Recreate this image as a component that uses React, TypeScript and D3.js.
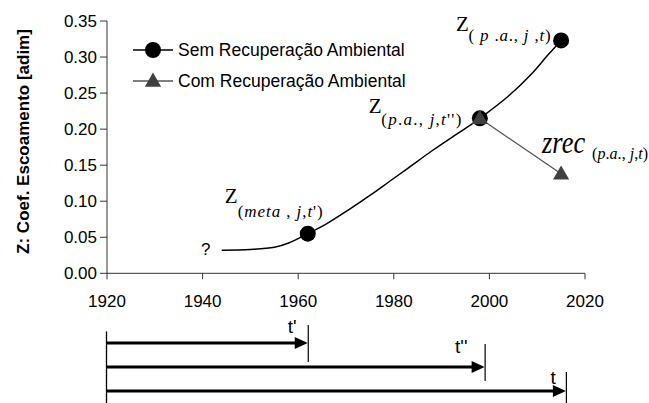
import React from "react";
import * as d3 from "d3";

const curveYears = [1944, 1950, 1955, 1958, 1962, 1966, 1971, 1975, 1979, 1983, 1988, 1992, 1995, 1998, 2004, 2009, 2012, 2015];
const curveValues = [0.032, 0.033, 0.036, 0.042, 0.055, 0.069, 0.090, 0.108, 0.127, 0.146, 0.170, 0.188, 0.201, 0.215, 0.246, 0.278, 0.301, 0.323];

const semYears = [1962, 1998, 2015];
const semValues = [0.055, 0.215, 0.323];

const comYears = [1998, 2015];
const comValues = [0.215, 0.138];

const xTicks = [1920, 1940, 1960, 1980, 2000, 2020];
const yTicks = [0, 0.05, 0.1, 0.15, 0.2, 0.25, 0.3, 0.35];

const timelineYears = [1962, 1999, 2016];
const timelineLabels = ["t'", "t''", "t"];

const legendLabels = ["Sem Recuperação Ambiental", "Com Recuperação Ambiental"];
const yTitle = "Z: Coef. Escoamento [adim]";

const W = 649;
const H = 403;

export default function App() {
  const x = d3.scaleLinear().domain([1920, 2020]).range([107, 585]);
  const y = d3.scaleLinear().domain([0, 0.35]).range([273.3, 21]);

  const curvePts: [number, number][] = curveYears.map((yr, i) => [x(yr), y(curveValues[i])]);
  const curvePath = d3.line().curve(d3.curveCatmullRom.alpha(0.5))(curvePts) || "";
  const comPath = d3.line()(comYears.map((yr, i) => [x(yr), y(comValues[i])] as [number, number])) || "";
  const tri = d3.symbol().type(d3.symbolTriangle).size(115)() || "";

  const sans = "Arial, 'Liberation Sans', sans-serif";
  const serif = "'Times New Roman', 'Liberation Serif', serif";
  const axisColor = "#333";
  const triFill = "#404040";

  const p0 = [x(semYears[0]), y(semValues[0])];
  const p1 = [x(semYears[1]), y(semValues[1])];
  const p2 = [x(semYears[2]), y(semValues[2])];
  const q1 = [x(comYears[1]), y(comValues[1])];

  const arrowYs = [343, 367, 391];
  const tickTops = [325, 344, 372];
  const tickBottoms = [362, 381, 403];
  const labelBaselines = [333, 353, 384];
  const labelOffsets = [11, 17, 10];

  const Sub = ({ x: sx, y: sy, w, parts, fs = 17 }: any) => (
    <text x={sx} y={sy} fontSize={fs} textLength={w} lengthAdjust="spacing" fontFamily={serif}>
      {parts.map((p: string, i: number) => (
        <tspan key={i} fontStyle={/[()',\s.]/.test(p) ? "normal" : "italic"}>{p}</tspan>
      ))}
    </text>
  );

  const Ann = ({ zx, zy, sx, sy, parts, subW }: any) => (
    <g fontFamily={serif}>
      <text x={zx} y={zy} fontSize={21}>Z</text>
      <Sub x={sx} y={sy} w={subW} parts={parts} />
    </g>
  );

  return (
    <svg width={W} height={H} style={{ position: "absolute", left: 0, top: 0, background: "#fff" }}>
      <rect width={W} height={H} fill="#fff" />
      {/* y axis */}
      <line x1={x(1920)} x2={x(1920)} y1={y(0.35)} y2={y(0)} stroke={axisColor} strokeWidth={1} />
      {yTicks.map((t) => (
        <g key={"y" + t}>
          <line x1={x(1920) - 7} x2={x(1920)} y1={y(t)} y2={y(t)} stroke={axisColor} strokeWidth={1} />
          <text x={97} y={y(t) + 6} textAnchor="end" fontFamily={sans} fontSize={17} fill="#000">{t.toFixed(2)}</text>
        </g>
      ))}
      {/* x axis */}
      <line x1={x(1920)} x2={x(2020)} y1={y(0)} y2={y(0)} stroke={axisColor} strokeWidth={1} />
      {xTicks.map((t) => (
        <g key={"x" + t}>
          <line x1={x(t)} x2={x(t)} y1={y(0)} y2={y(0) + 6} stroke={axisColor} strokeWidth={1} />
          <text x={x(t)} y={306.5} textAnchor="middle" fontFamily={sans} fontSize={17} fill="#000">{t}</text>
        </g>
      ))}
      {/* y title */}
      <text transform={`translate(28.5,${141.5}) rotate(-90)`} textAnchor="middle" fontFamily={sans} fontWeight="bold" fontSize={17}>{yTitle}</text>

      {/* curve */}
      <path d={curvePath} fill="none" stroke="#000" strokeWidth={1.5} />
      <path d={comPath} fill="none" stroke="#555" strokeWidth={1.3} />
      {semYears.map((yr, i) => (
        <circle key={"c" + yr} cx={x(yr)} cy={y(semValues[i])} r={8} fill="#000" />
      ))}
      {comYears.map((yr, i) => (
        <path key={"t" + yr} d={tri} transform={`translate(${x(yr)},${y(comValues[i]) + 1})`} fill={triFill} />
      ))}

      {/* question mark */}
      <text x={x(curveYears[0]) - 16} y={255} textAnchor="middle" fontFamily={sans} fontSize={17}>?</text>

      {/* annotations */}
      <Ann zx={p0[0] - 83} zy={p0[1] - 31} sx={p0[0] - 70} sy={p0[1] - 17} parts={["(", "meta", " , ", "j", ",", "t", "')"]} subW={85} />
      <Ann zx={p2[0] - 105} zy={p2[1] - 9} sx={p2[0] - 92.5} sy={p2[1] + 1} parts={["( ", "p", " .", "a", "., ", "j", " ,", "t", ")"]} subW={82} />
      <Ann zx={p1[0] - 111} zy={p1[1] - 5} sx={p1[0] - 98.5} sy={p1[1] + 7} parts={["(", "p", ".", "a", "., ", "j", ",", "t", "'')"]} subW={80} />
      <g fontFamily={serif}>
        <text x={q1[0] - 19} y={q1[1] - 21} fontSize={31} fontStyle="italic" textLength={43} lengthAdjust="spacingAndGlyphs">zrec</text>
        <Sub x={q1[0] + 31} y={q1[1] - 15} w={56} fs={16} parts={["(", "p", ".", "a", "., ", "j", ",", "t", ")"]} />
      </g>

      {/* legend */}
      <line x1={133} x2={173} y1={50} y2={50} stroke="#000" strokeWidth={1.5} />
      <circle cx={153} cy={50} r={8} fill="#000" />
      <text x={178} y={56} fontFamily={sans} fontSize={17.5}>{legendLabels[0]}</text>
      <line x1={133} x2={173} y1={81} y2={81} stroke="#555" strokeWidth={1.3} />
      <path d={tri} transform={`translate(153,${82})`} fill={triFill} />
      <text x={178} y={87} fontFamily={sans} fontSize={17.5}>{legendLabels[1]}</text>

      {/* timeline */}
      <line x1={x(1920) - 0.5} x2={x(1920) - 0.5} y1={331.5} y2={H} stroke="#000" strokeWidth={1.3} />
      {timelineYears.map((yr, i) => {
        const tx = x(yr);
        const ay = arrowYs[i];
        return (
          <g key={"tl" + yr}>
            <line x1={x(1920)} x2={tx - 12} y1={ay} y2={ay} stroke="#000" strokeWidth={3} />
            <path d={`M${tx},${ay} L${tx - 13},${ay - 6} L${tx - 13},${ay + 6} Z`} fill="#000" />
            <line x1={tx + 0.5} x2={tx + 0.5} y1={tickTops[i]} y2={tickBottoms[i]} stroke="#000" strokeWidth={1.2} />
            <text x={tx - labelOffsets[i]} y={labelBaselines[i]} textAnchor="end" fontFamily={sans} fontSize={19}>{timelineLabels[i]}</text>
          </g>
        );
      })}
    </svg>
  );
}
